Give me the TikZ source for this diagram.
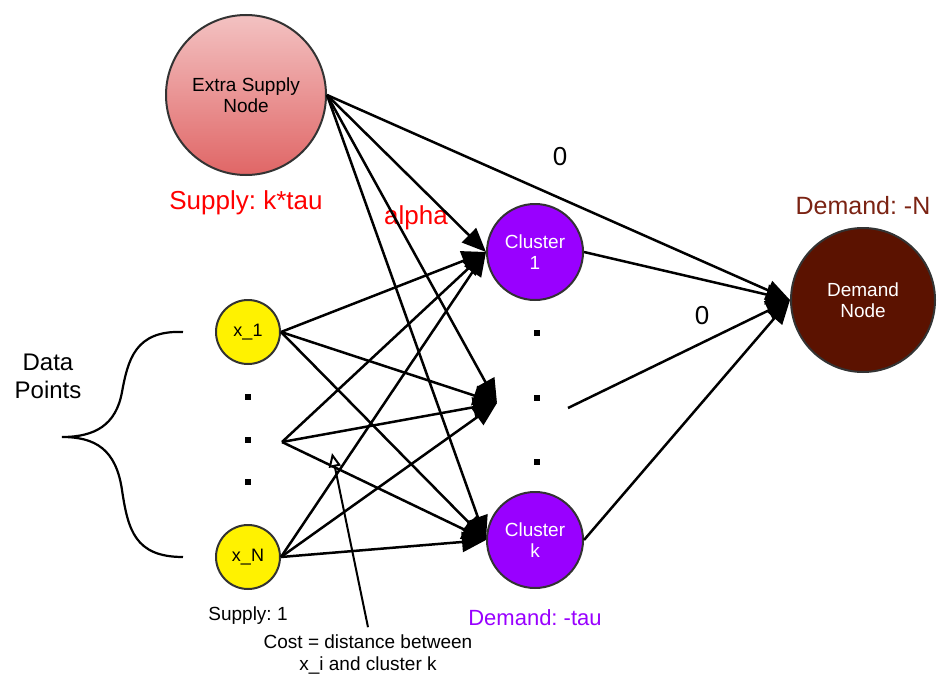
\documentclass[tikz,border=0pt]{standalone}
\usepackage{fontspec}
\setmainfont{Liberation Sans}
\usetikzlibrary{positioning,arrows.meta}
\definecolor{suptop}{HTML}{F3C2C2}
\definecolor{supbot}{HTML}{E06666}
\definecolor{clupurple}{HTML}{9900FF}
\definecolor{demfill}{HTML}{5B1200}
\definecolor{demtext}{HTML}{7B2313}
\definecolor{rim}{HTML}{333333}
\tikzset{line/.style={draw, line width=1.25pt, -{Triangle[length=12pt,width=10pt]}}}

\begin{document}
\frenchspacing
\begin{tikzpicture}[x=0.5pt, y=-0.5pt]
\tikzstyle{ci} = [circle, draw=rim, line width=1pt, inner sep=0pt, align=center, font=\fontsize{9.5}{10.5}\selectfont]
\tikzstyle{supc} = [ci, minimum size=80pt, top color=suptop, bottom color=supbot]
\tikzstyle{cluc} = [ci, minimum size=48pt, fill=clupurple, text=white]
\tikzstyle{demc} = [ci, minimum size=72pt, fill=demfill, text=white]
\tikzstyle{pnt} = [ci, minimum size=32pt, fill=yellow, font=\fontsize{9}{10}\selectfont]
\tikzstyle{lbl} = [align=center, font=\fontsize{13}{15}\selectfont]
\tikzstyle{small} = [align=center, font=\fontsize{9.5}{11}\selectfont]
\tikzstyle{sq} = [rectangle, fill, inner sep=0pt, minimum size=3pt]
\tikzstyle{ptr} = [draw, line width=1pt, -{Triangle[open, fill=white, length=7pt, width=6pt]}]

\useasboundingbox (0,0) rectangle (937,680);

% nodes
\node [supc](esn) at (246,95) {Extra Supply\\Node};
\node [pnt](x1) at (248,332) {x\_1};
\node [pnt](xN) at (248,557) {x\_N};
\node [cluc](cl1) at (535,252) {Cluster\\1};
\node [cluc](clk) at (535,540) {Cluster\\k};
\node [demc](dem) at (863,300) {Demand\\Node};

\coordinate (xm) at (282,442);
\coordinate (mid) at (497,403);
\coordinate (midout) at (568,408);
\coordinate (costtip) at (332,453);

% dots
\node [sq](d1) at (248,397) {};
\node [sq](d2) at (248,440) {};
\node [sq](d3) at (248,482) {};
\node [sq](d4) at (537,333) {};
\node [sq](d5) at (537,398) {};
\node [sq](d6) at (537,462) {};

% labels
\node [lbl, text=red, below=13.5pt of esn.south, anchor=center](supl){Supply: k*tau};
\node [lbl, text=red](alpha) at (416,218) {alpha};
\node [lbl](z1) at (560,157) {0};
\node [lbl](z2) at (702,316) {0};
\node [lbl, text=demtext, font=\fontsize{12.5}{15}\selectfont, above=10.5pt of dem.north, anchor=center](deml){Demand: -N};
\node [lbl, text=clupurple, font=\fontsize{11}{13}\selectfont, below=14.5pt of clk.south, anchor=center](clul){Demand: -tau};
\node [small, below=13pt of xN.south, anchor=center](ptl){Supply: 1};
\node [small](cost) at (368,654) {Cost = distance between\\x\_i and cluster k};
\node [lbl, font=\fontsize{12}{14}\selectfont](data) at (48,376) {Data\\Points};

% edges from supply
\draw [line] (esn.east) -- (cl1.west);
\draw [line] (esn.east) -- (mid);
\draw [line] (esn.east) -- (clk.west);
\draw [line] (esn.east) -- (dem.west);

% edges from data points
\draw [line] (x1.east) -- (cl1.west);
\draw [line] (x1.east) -- (mid);
\draw [line] (x1.east) -- (clk.west);
\draw [line] (xm) -- (cl1.west);
\draw [line] (xm) -- (mid);
\draw [line] (xm) -- (clk.west);
\draw [line] (xN.east) -- (cl1.west);
\draw [line] (xN.east) -- (mid);
\draw [line] (xN.east) -- (clk.west);

% edges to demand
\draw [line] (cl1.east) -- (dem.west);
\draw [line] (midout) -- (dem.west);
\draw [line] (clk.east) -- (dem.west);

% cost pointer
\draw [ptr] (cost.north) -- (costtip);

% brace
\draw [line width=1.1pt] (183,332) .. controls (135,330) and (128,360) .. (122,392)
    .. controls (116,425) and (95,437) .. (62,437)
    .. controls (95,437) and (116,449) .. (122,490)
    .. controls (128,530) and (135,557) .. (183,557);

\end{tikzpicture}
\end{document}
